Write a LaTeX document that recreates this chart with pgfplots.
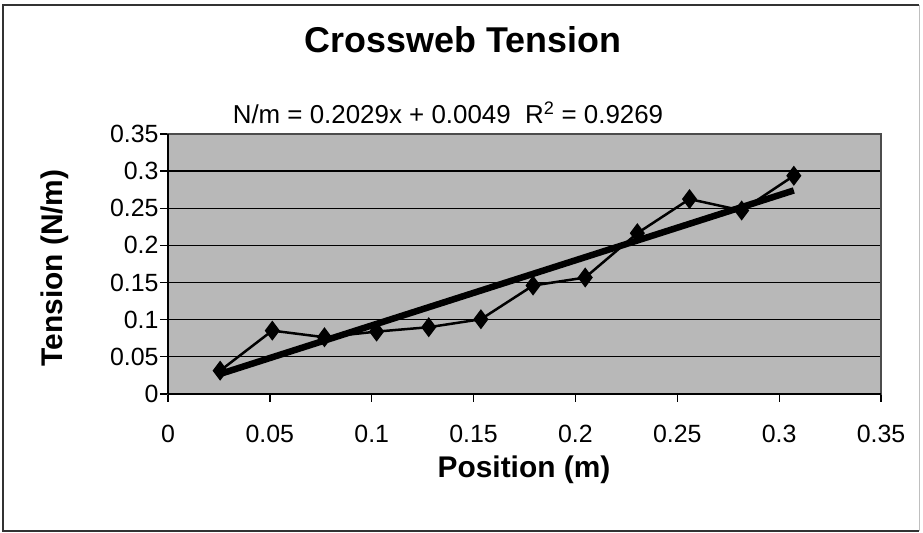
\documentclass[border=0pt]{standalone}
\usepackage{pgfplots}
\pgfplotsset{compat=1.18}
\usepackage{fontspec}
\setmainfont{Liberation Sans}
\definecolor{plotbg}{HTML}{B8B8B8}
\begin{document}
\begin{tikzpicture}[x=1bp,y=1bp]
\useasboundingbox (0,0) rectangle (923,533);
\draw[black!80, line width=1.5bp] (919,2) -- (3,2) -- (3,528) -- (919,528);
\draw[black!25, line width=1bp] (919,2) -- (919,528);
\begin{axis}[
  at={(168bp,139bp)}, anchor=south west,
  scale only axis, width=713bp, height=260bp,
  xmin=0, xmax=0.35, ymin=0, ymax=0.35,
  xtick={0,0.05,0.1,0.15,0.2,0.25,0.3,0.35},
  ytick={0,0.05,0.1,0.15,0.2,0.25,0.3,0.35},
  xtick pos=bottom, ytick pos=left,
  /pgf/number format/assume math mode=true,
  /pgf/number format/fixed, /pgf/number format/precision=2,
  ticklabel style={font=\fontsize{25}{30}\selectfont},
  xticklabel style={yshift=-20bp},
  yticklabel style={xshift=2bp},
  tick align=outside, major tick length=8bp,
  tick style={black, line width=1.3bp},
  axis line style={black!70, line width=1.3bp},
  ymajorgrids, grid style={black, line width=1.3bp},
  axis background/.style={fill=plotbg},
  clip=false,
]
\addplot[black, line width=2.5bp, mark=diamond*, mark size=8bp, mark options={solid, fill=black}] coordinates {
 (0.0256,0.0314) (0.0512,0.0853) (0.0768,0.0764) (0.1024,0.0840)
 (0.1280,0.0899) (0.1536,0.1006) (0.1792,0.1460) (0.2048,0.1568)
 (0.2304,0.2165) (0.2560,0.2624) (0.2816,0.2470) (0.3072,0.2938)
};
\addplot[black, line width=6.5bp, line cap=butt] coordinates {(0.0256,0.027) (0.3072,0.274)};
\draw[black, line width=1.5bp] (axis cs:0,0) -- (axis cs:0,0.35);
\draw[black, line width=1.5bp] (axis cs:0,0) -- (axis cs:0.35,0);
\end{axis}
\node[font=\fontsize{36}{40}\selectfont\bfseries] at (463,493) {Crossweb Tension};
\node[font=\fontsize{26}{30}\selectfont] at (448,420) {N/m = 0.2029x + 0.0049\ \ R\textsuperscript{2} = 0.9269};
\node[font=\fontsize{30}{34}\selectfont\bfseries, rotate=90] at (55,265) {Tension (N/m)};
\node[font=\fontsize{30}{34}\selectfont\bfseries] at (524,63) {Position (m)};
\end{tikzpicture}
\end{document}
